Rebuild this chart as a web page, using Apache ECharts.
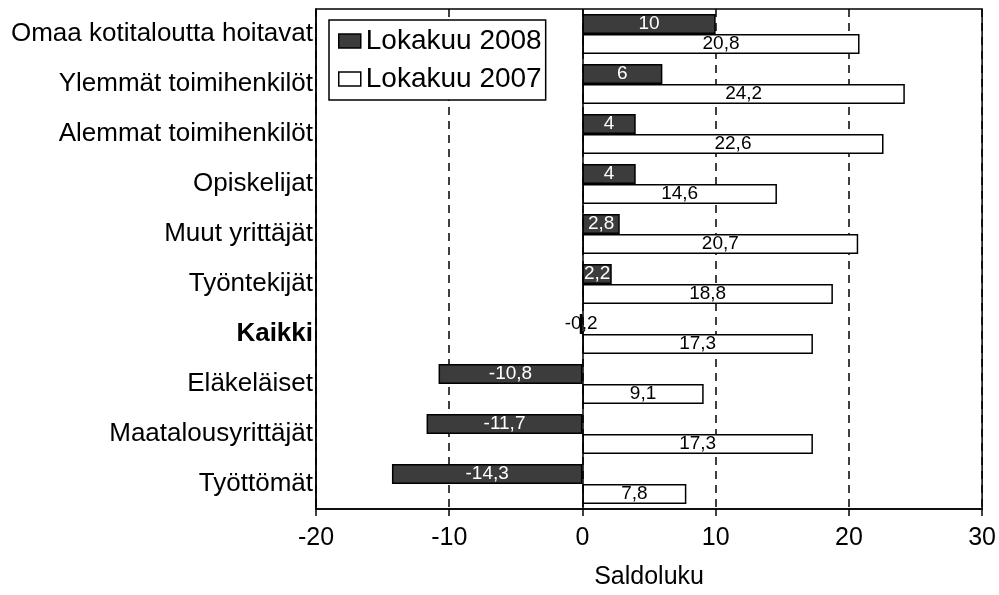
<!DOCTYPE html>
<html>
<head>
<meta charset="utf-8">
<script src="https://cdn.jsdelivr.net/npm/echarts@6/dist/echarts.min.js"></script>
<style>html,body{margin:0;padding:0;background:#fff}#c{width:999px;height:595px}</style>
</head>
<body>
<div id="c"></div>
<script>
var categories = ['Omaa kotitaloutta hoitavat','Ylemmät toimihenkilöt','Alemmat toimihenkilöt','Opiskelijat','Muut yrittäjät','Työntekijät','Kaikki','Eläkeläiset','Maatalousyrittäjät','Työttömät'];
var values2008 = [10, 6, 4, 4, 2.8, 2.2, -0.2, -10.8, -11.7, -14.3];
var values2007 = [20.8, 24.2, 22.6, 14.6, 20.7, 18.8, 17.3, 9.1, 17.3, 7.8];
var xTicks = [-20, -10, 0, 10, 20, 30];

function fmt(v){ return String(v).replace('.', ','); }

var chart = echarts.init(document.getElementById('c'));
var font = 'Liberation Sans, Arial, sans-serif';

var d2008 = values2008.map(function(v){
  var item = {value: v};
  if (Math.abs(v) < 1) item.label = {color: '#000'};
  return item;
});

chart.setOption({
  animation: false,
  textStyle: {fontFamily: font},
  grid: {left: 316, right: 14, top: 9, bottom: 84, show: true, borderColor: '#000', borderWidth: 1.5, backgroundColor: 'transparent'},
  legend: {
    left: 329, top: 20, orient: 'vertical',
    borderColor: '#000', borderWidth: 1.5, backgroundColor: '#fff',
    padding: [7, 4, 7, 9], itemGap: 10, itemWidth: 22, itemHeight: 14, icon: 'rect',
    textStyle: {fontSize: 28, color: '#000', fontFamily: font},
    data: [
      {name: 'Lokakuu 2008', itemStyle: {color: '#3c3c3c', borderColor: '#000', borderWidth: 1.5}},
      {name: 'Lokakuu 2007', itemStyle: {color: '#fff', borderColor: '#000', borderWidth: 1.5}}
    ]
  },
  xAxis: {
    type: 'value', min: -20, max: 30, interval: 10,
    name: 'Saldoluku', nameLocation: 'middle', nameGap: 56,
    nameTextStyle: {fontSize: 25, color: '#000', fontFamily: font},
    axisLine: {show: true, onZero: false, lineStyle: {color: '#000', width: 1.5}},
    axisTick: {show: true, length: 7, lineStyle: {color: '#000', width: 1.5}},
    axisLabel: {fontSize: 25, color: '#000', margin: 17, fontFamily: font,
      formatter: function(v){ return xTicks.indexOf(v) >= 0 ? String(v) : ''; }},
    splitLine: {show: true, lineStyle: {color: '#000', type: [8, 6], width: 1.5}}
  },
  yAxis: {
    type: 'category', inverse: true, data: categories,
    axisLine: {show: true, onZero: false, lineStyle: {color: '#000', width: 1.5}},
    axisTick: {show: false},
    axisLabel: {fontSize: 26, color: '#000', margin: 3, fontFamily: font,
      formatter: function(v){ return v === 'Kaikki' ? '{b|' + v + '}' : v; },
      rich: {b: {fontWeight: 'bold', fontSize: 26, color: '#000', fontFamily: font}}
    }
  },
  series: [
    {
      name: 'Lokakuu 2008', type: 'bar', data: d2008,
      barGap: '0%', barCategoryGap: '20%',
      itemStyle: {color: '#3c3c3c', borderColor: '#000', borderWidth: 1.5},
      label: {show: true, position: 'inside', color: '#fff', fontSize: 19, fontFamily: font,
        formatter: function(p){ return fmt(p.value); }},
      markLine: {silent: true, symbol: 'none', label: {show: false},
        lineStyle: {color: '#000', type: 'solid', width: 1.5},
        data: [{xAxis: 0}]}
    },
    {
      name: 'Lokakuu 2007', type: 'bar', data: values2007,
      itemStyle: {color: '#fff', borderColor: '#000', borderWidth: 1.5},
      label: {show: true, position: 'inside', color: '#000', fontSize: 19, fontFamily: font,
        formatter: function(p){ return fmt(p.value); }}
    }
  ]
});
</script>
</body>
</html>
